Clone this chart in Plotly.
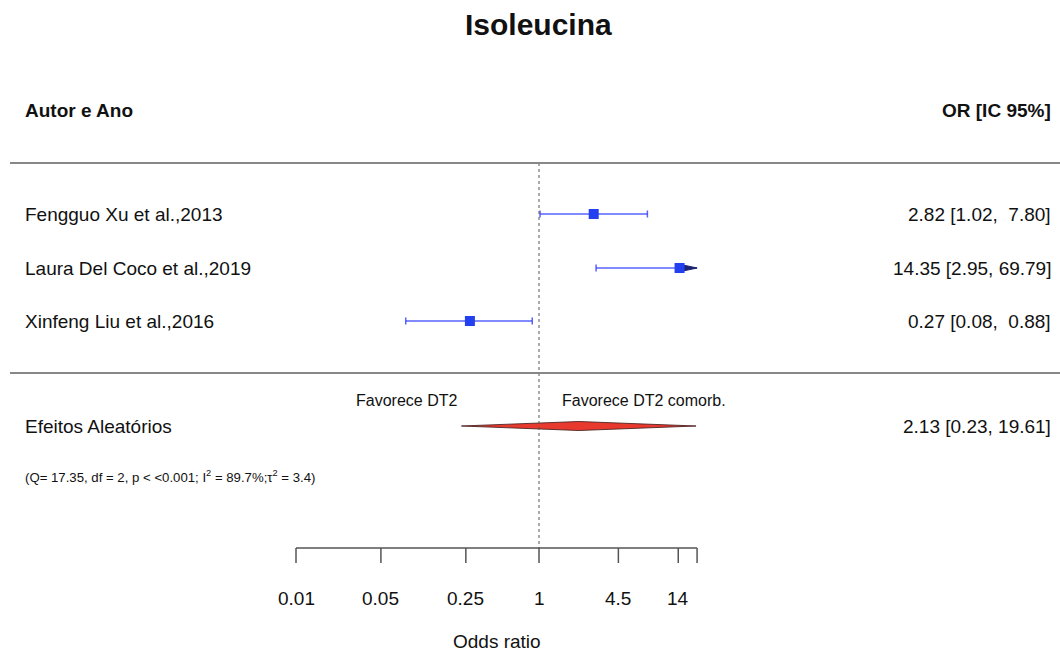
import numpy as np
import plotly.graph_objects as go

# ---- data -------------------------------------------------------------
studies = ["Fengguo Xu et al.,2013", "Laura Del Coco et al.,2019", "Xinfeng Liu et al.,2016"]
odds = [2.82, 14.35, 0.27]
ci_low = [1.02, 2.95, 0.08]
ci_high = [7.80, 69.79, 0.88]

pooled_label = "Efeitos Aleatórios"
pooled_or = 2.13
pooled_low = 0.23
pooled_high = 19.61

tick_vals = [0.01, 0.05, 0.25, 1, 4.5, 14]
tick_text = ["0.01", "0.05", "0.25", "1", "4.5", "14"]
axis_limits = [0.01, 20]

q_stat, q_df, p_text, i2, tau2 = 17.35, 2, "<0.001", 89.7, 3.4

# ---- layout geometry (pixels, y measured from top) ---------------------
W, H = 1060, 655
PX_PER_DECADE = 121.5
REF_PX = 539
row_y = [214, 268, 321]
pooled_y = 426
header_y = 110
rule_top_y = 163
rule_mid_y = 373
axis_y = 548
tick_len = 15
ticklabel_y = 598
xlabel_y = 641
cap_half = 3.5
diamond_half = 4.5

FONT = "Liberation Sans, Arial, sans-serif"
CI_COLOR = "rgba(45,60,255,0.8)"
SQ_COLOR = "#2340f0"

x_range = [-REF_PX / PX_PER_DECADE, (W - REF_PX) / PX_PER_DECADE]
lo_lim, hi_lim = axis_limits


def fmt_ci(est, lo, hi):
    s = f"{est:.2f} [{lo:.2f}, {hi:5.2f}]"
    return s.replace(" ", "\u00a0")


fig = go.Figure()

# confidence interval lines with end caps
line_x, line_y = [], []
for lo, hi, y in zip(ci_low, ci_high, row_y):
    lo_c, hi_c = max(lo, lo_lim), min(hi, hi_lim)
    line_x += [lo_c, hi_c, None]
    line_y += [y, y, None]
    if lo >= lo_lim:
        line_x += [lo, lo, None]
        line_y += [y - cap_half, y + cap_half, None]
    if hi <= hi_lim:
        line_x += [hi, hi, None]
        line_y += [y - cap_half, y + cap_half, None]
fig.add_trace(go.Scatter(x=line_x, y=line_y, mode="lines",
                         line=dict(color=CI_COLOR, width=1.5),
                         hoverinfo="skip", showlegend=False))

# arrows for intervals running past the axis limit
for hi, y in zip(ci_high, row_y):
    if hi > hi_lim:
        base = 10 ** (np.log10(hi_lim) - 13 / PX_PER_DECADE)
        fig.add_trace(go.Scatter(x=[base, hi_lim, base, base], y=[y - 2.8, y, y + 2.8, y - 2.8],
                                 mode="lines", fill="toself", fillcolor="#1c2470",
                                 line=dict(color="#1c2470", width=1),
                                 hoverinfo="skip", showlegend=False))

# point estimates
fig.add_trace(go.Scatter(x=odds, y=row_y, mode="markers",
                         marker=dict(symbol="square", size=10, color=SQ_COLOR,
                                     line=dict(width=0)),
                         hoverinfo="skip", showlegend=False))

# pooled estimate diamond
fig.add_trace(go.Scatter(
    x=[pooled_low, pooled_or, pooled_high, pooled_or, pooled_low],
    y=[pooled_y, pooled_y - diamond_half, pooled_y, pooled_y + diamond_half, pooled_y],
    mode="lines", fill="toself", fillcolor="#e8392e",
    line=dict(color="rgba(70,30,30,0.85)", width=1),
    hoverinfo="skip", showlegend=False))

# reference line at OR = 1
fig.add_trace(go.Scatter(x=[1, 1], y=[rule_top_y, axis_y], mode="lines",
                         line=dict(color="#555555", width=1, dash="dot"),
                         hoverinfo="skip", showlegend=False))

# bottom axis with ticks
ax_x = [lo_lim, hi_lim, None]
ax_y = [axis_y, axis_y, None]
for v in tick_vals + [hi_lim]:
    ax_x += [v, v, None]
    ax_y += [axis_y, axis_y + tick_len, None]
fig.add_trace(go.Scatter(x=ax_x, y=ax_y, mode="lines",
                         line=dict(color="#555555", width=1.5),
                         hoverinfo="skip", showlegend=False))

# horizontal rules
for y in (rule_top_y, rule_mid_y):
    fig.add_shape(type="line", xref="paper", yref="y", x0=10 / W, x1=1, y0=y, y1=y,
                  line=dict(color="#888888", width=2))

ann = []


def text(x, y, s, size=19, anchor="left", bold=False, xref="paper", xshift=0):
    if bold:
        s = f"<b>{s}</b>"
    ann.append(dict(x=x, y=y, xref=xref, yref="y", text=s, showarrow=False,
                    xanchor=anchor, yanchor="middle", xshift=xshift,
                    font=dict(family=FONT, size=size, color="#111111")))


text(538 / W, 24, "Isoleucina", size=30, anchor="center", bold=True)
text(23 / W, header_y, "Autor e Ano", bold=True)
text(1053 / W, header_y, "OR [IC 95%]", bold=True, anchor="right")

for name, est, lo, hi, y in zip(studies, odds, ci_low, ci_high, row_y):
    text(23 / W, y, name)
    text(1053 / W, y, fmt_ci(est, lo, hi), anchor="right")

text(23 / W, pooled_y, pooled_label)
text(1053 / W, pooled_y, fmt_ci(pooled_or, pooled_low, pooled_high), anchor="right")
text(23 / W, 476,
     f"(Q= {q_stat:.2f}, df = {q_df}, p < {p_text}; I<sup>2</sup> = {i2:.1f}%;"
     f"\u03c4<sup>2</sup> = {tau2})", size=13.2)

text(0, 400, "Favorece DT2", size=16, anchor="right", xref="x", xshift=-80)
text(0, 400, "Favorece DT2 comorb.", size=16, anchor="left", xref="x", xshift=21)

for v, t in zip(tick_vals, tick_text):
    text(np.log10(v), ticklabel_y, t, anchor="center", xref="x")
text(np.log10(1) - 42 / PX_PER_DECADE, xlabel_y, "Odds ratio", anchor="center", xref="x")

fig.update_layout(
    width=W, height=H, margin=dict(l=0, r=0, t=0, b=0),
    paper_bgcolor="white", plot_bgcolor="white",
    xaxis=dict(type="log", range=x_range, visible=False, fixedrange=True),
    yaxis=dict(range=[H, 0], visible=False, fixedrange=True),
    annotations=ann, showlegend=False,
)

fig.write_html("out.html")
